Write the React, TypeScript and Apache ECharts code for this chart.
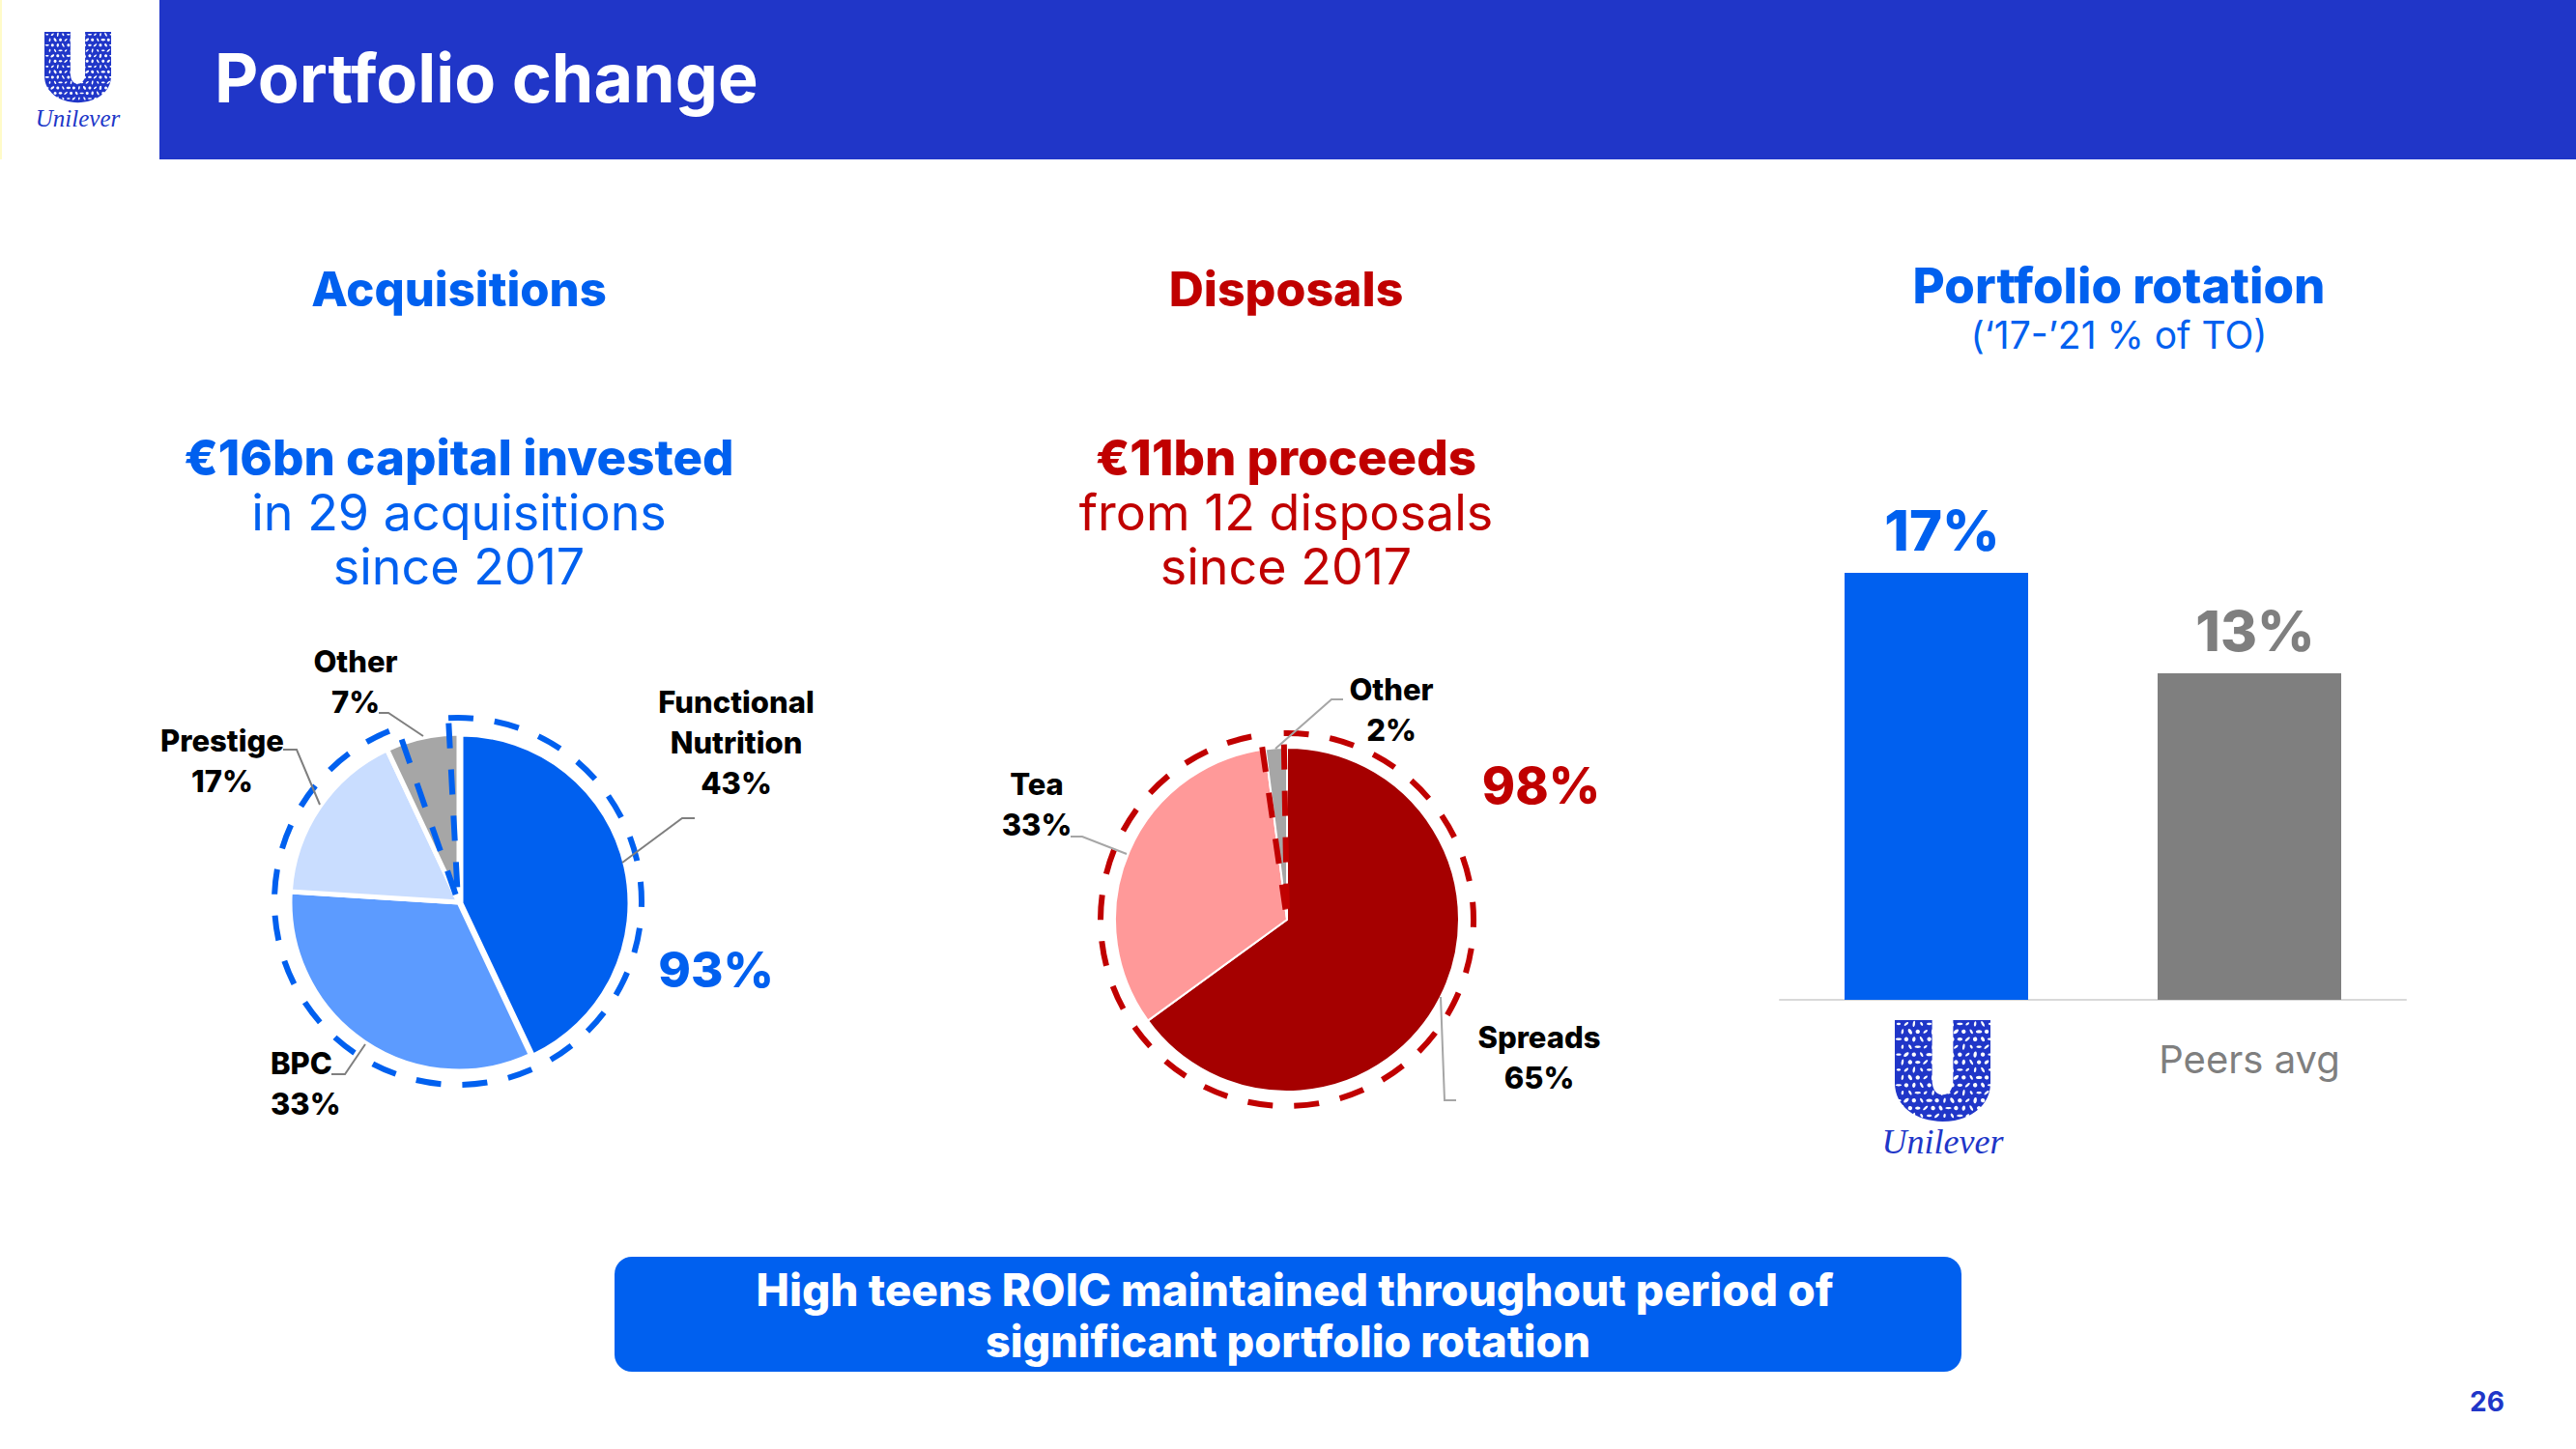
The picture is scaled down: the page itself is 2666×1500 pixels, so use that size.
import React, { useEffect, useRef } from "react";
import * as echarts from "echarts";

const acquisitionNames = ["Functional\nNutrition", "BPC", "Prestige", "Other"];
const acquisitionValues = [43, 33, 17, 7];
const acquisitionColors = ["#0060EF", "#5C9BFF", "#C9DDFF", "#A6A6A6"];
const acquisitionLabelSpots = [[762, 768, "center"], [280, 1121, "left"], [230, 787, "center"], [368, 705, "center"]];
const acquisitionRing = [95.5, 4.5];

const disposalNames = ["Spreads", "Tea", "Other"];
const disposalValues = [65, 33, 2];
const disposalColors = ["#A50000", "#FF9999", "#A6A6A6"];
const disposalLabelSpots = [[1593, 1094, "center"], [1073, 832, "center"], [1440, 734, "center"]];
const disposalRing = [98, 2];

const rotationCategories = ["Unilever", "Peers avg"];
const rotationValues = [17, 13];
const rotationColors = ["#0060EF", "#7F7F7F"];

const FONT = "Inter";
const BLUE = "#0060EF";
const RED = "#C00000";
const NAVY = "#2036C8";

const U_PATH = "M0 0H39V62C39 72 43 78 50 78C57 78 61 72 61 62V0H100V66C100 90 78 106 50 106C22 106 0 90 0 66Z";
echarts.graphic.registerShape("uLogo", echarts.graphic.extendPath(U_PATH, {}));

function logo(x: number, y: number, width: number, textSize: number, textY: number) {
  const s = width / 100;
  const flecks: any[] = [];
  for (let row = 0; row < 13; row++) {
    for (let col = 0; col < 13; col++) {
      const cx = 4 + col * 8 + (row % 2) * 4;
      const cy = 4 + row * 8;
      flecks.push({
        type: "ellipse",
        shape: { cx, cy, rx: 2.2 + ((row + col) % 3) * 0.5, ry: 1.2 + ((row * col) % 3) * 0.5 },
        rotation: ((row * 2 + col) % 4) * 0.7,
        originX: cx,
        originY: cy,
        style: { fill: "#ffffff" },
      });
    }
  }
  return [
    { type: "group", x, y, scaleX: s, scaleY: s, children: [{ type: "uLogo", style: { fill: NAVY } }, ...flecks] },
    {
      type: "text", x: x + width / 2, y: textY,
      style: { text: "Unilever", fill: NAVY, font: `italic 400 ${textSize}px 'Liberation Serif'`, textAlign: "center", textVerticalAlign: "middle" },
    },
  ];
}

function text(t: string, x: number, y: number, size: number, fill: string, weight: number | string = 400, align = "center", lineHeight?: number) {
  return {
    type: "text", x, y, z: 20,
    style: { text: t, fill, font: `${weight} ${size}px ${FONT}`, textAlign: align, textVerticalAlign: "middle", ...(lineHeight ? { lineHeight } : {}) },
  };
}

function leader(points: number[][], color: string) {
  return { type: "polyline", z: 15, shape: { points }, style: { stroke: color, lineWidth: 2, fill: "none" } };
}

function pieSeries(names: string[], values: number[], colors: string[], spots: any[], center: number[], radius: number, border: number) {
  return {
    type: "pie", center, radius, startAngle: 90, clockwise: true, silent: true, z: 3,
    label: { show: true, formatter: "{b}\n{c}%", color: "#000", fontFamily: FONT, fontWeight: 800, fontSize: 31, lineHeight: 42 },
    labelLine: { show: false },
    data: names.map((name, i) => ({
      name, value: values[i],
      itemStyle: { color: colors[i], borderColor: "#fff", borderWidth: border },
    })),
    labelLayout: (p: any) => {
      const s = spots[p.dataIndex];
      return { x: s[0], y: s[1], align: s[2], verticalAlign: "middle" };
    },
  };
}

// The first slice of the acquisitions pie stands a little apart from the others.
function explodedSlice(value: number, color: string, center: number[], radius: number, border: number) {
  return {
    type: "pie", center, radius, startAngle: 90, clockwise: true, silent: true, z: 4,
    label: { show: false }, labelLine: { show: false },
    data: [
      { value, name: "slice", itemStyle: { color, borderColor: "#fff", borderWidth: border } },
      { value: 100 - value, name: "rest", itemStyle: { color: "rgba(0,0,0,0)", borderWidth: 0 } },
    ],
  };
}

function ringSeries(values: number[], color: string, center: number[], radius: number, startAngle: number) {
  return {
    type: "pie", center, radius, startAngle, clockwise: true, silent: true, z: 5,
    label: { show: false }, labelLine: { show: false },
    data: [
      { value: values[0], name: "covered", itemStyle: { color: "rgba(0,0,0,0)", borderColor: color, borderWidth: 6, borderType: [26, 22] } },
      { value: values[1], name: "rest", itemStyle: { color: "rgba(0,0,0,0)", borderWidth: 0 } },
    ],
  };
}

export default function App() {
  const ref = useRef<HTMLDivElement>(null);
  useEffect(() => {
    const chart = echarts.init(ref.current!, undefined, { renderer: "svg" });
    chart.setOption({
      animation: false,
      backgroundColor: "#fff",
      grid: { left: 1842, top: 593, width: 648, height: 442 },
      xAxis: {
        type: "category", data: rotationCategories,
        axisLine: { lineStyle: { color: "#D9D9D9", width: 2 } }, axisTick: { show: false },
        axisLabel: {
          margin: 41, fontFamily: FONT, interval: 0,
          formatter: (v: string) => (v === "Unilever" ? "" : `{p|${v}}`),
          rich: { p: { color: "#7F7F7F", fontSize: 40, fontFamily: FONT } },
        },
      },
      yAxis: { type: "value", min: 0, max: 17, show: false, splitLine: { show: false } },
      series: [
        pieSeries(acquisitionNames, acquisitionValues, acquisitionColors, acquisitionLabelSpots, [475, 934], 175, 5),
        explodedSlice(acquisitionValues[0], acquisitionColors[0], [477, 935], 175, 5),
        ringSeries(acquisitionRing, BLUE, [474, 933], 190, 93),
        pieSeries(disposalNames, disposalValues, disposalColors, disposalLabelSpots, [1332, 952], 178, 2),
        ringSeries(disposalRing, RED, [1332, 952], 193, 91),
        {
          type: "bar", barWidth: 190, z: 3,
          label: {
            show: true, position: "top", distance: 14, offset: [6, -1], formatter: "{c}%", fontFamily: FONT, fontWeight: 800, fontSize: 58,
          },
          data: rotationValues.map((value, i) => ({
            value, itemStyle: { color: rotationColors[i] },
            label: { color: rotationColors[i] },
          })),
        },
      ],
      graphic: [
        { type: "rect", shape: { x: 0, y: 0, width: 2, height: 165 }, style: { fill: "#FFFBC8" } },
        { type: "rect", shape: { x: 165, y: 0, width: 2501, height: 165 }, style: { fill: NAVY } },
        text("Portfolio change", 222, 80, 70, "#fff", 700, "left"),
        ...logo(46, 33, 69, 25, 122),
        text("Acquisitions", 475, 299, 49, BLUE, 800),
        text("Disposals", 1331, 299, 50, RED, 800),
        text("Portfolio rotation", 2193, 295, 51, BLUE, 800),
        text("(‘17-’21 % of TO)", 2193, 346, 39, BLUE),
        text("€16bn capital invested", 475, 473, 51, BLUE, 800),
        text("in 29 acquisitions\nsince 2017", 475, 558, 52, BLUE, 400, "center", 56),
        text("€11bn proceeds", 1331, 473, 51, RED, 800),
        text("from 12 disposals\nsince 2017", 1331, 558, 52, RED, 400, "center", 56),
        text("93%", 741, 1003, 51, BLUE, 800),
        text("98%", 1595, 813, 52, RED, 800),
        leader([[644, 893], [706, 847], [719, 847]], "#7F7F7F"),
        leader([[392, 738], [402, 738], [438, 762]], "#7F7F7F"),
        leader([[293, 776], [307, 776], [331, 833]], "#7F7F7F"),
        leader([[343, 1112], [357, 1112], [378, 1081]], "#7F7F7F"),
        leader([[1390, 724], [1378, 724], [1320, 775]], "#A6A6A6"),
        leader([[1108, 866], [1120, 866], [1166, 884]], "#A6A6A6"),
        leader([[1491, 1032], [1495, 1139], [1507, 1139]], "#A6A6A6"),
        ...logo(1961, 1056, 99, 36, 1182),
        { type: "rect", shape: { x: 636, y: 1301, width: 1394, height: 119, r: 18 }, style: { fill: BLUE } },
        text("High teens ROIC maintained throughout period of", 1340, 1335, 46, "#fff", 800),
        text("significant portfolio rotation", 1333, 1388, 45, "#fff", 800),
        text("26", 2574, 1451, 28, NAVY, 700),
      ],
    });
    return () => chart.dispose();
  }, []);
  return <div ref={ref} style={{ position: "absolute", left: 0, top: 0, width: 2666, height: 1500 }} />;
}
